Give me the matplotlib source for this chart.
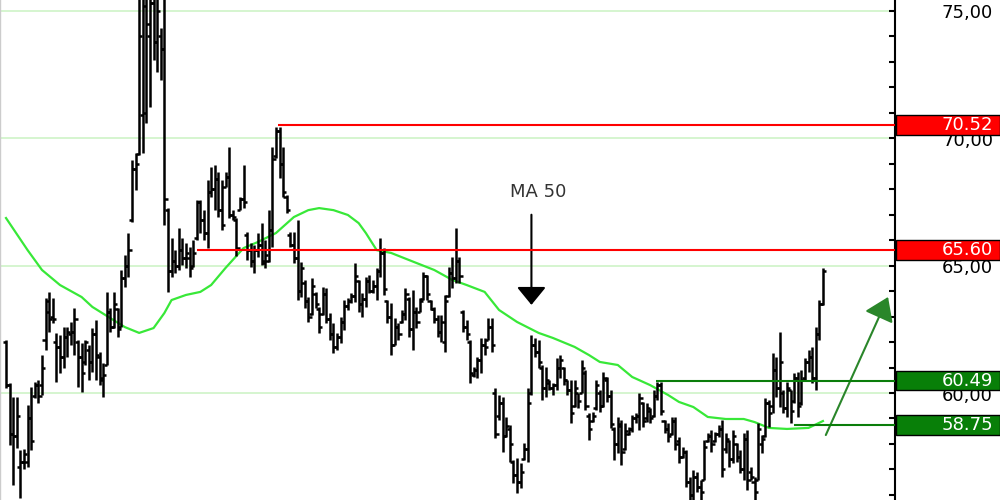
import numpy as np
import matplotlib.pyplot as plt
from matplotlib.transforms import blended_transform_factory
from matplotlib.patches import Rectangle

# daily bars (open, high, low, close)
opens = [62.0, 60.3, 58.4, 58.3, 57.1, 57.3, 57.3, 59.0, 59.9, 60.3, 60.3, 62.1, 63.6, 63.0, 62.0, 61.8, 61.4, 62.2, 62.3, 62.4,
         62.0, 61.4, 61.2, 61.7, 61.2, 62.3, 61.4, 60.5, 61.1, 63.2, 62.6, 63.3, 62.6, 64.5, 65.0, 66.8, 68.8, 69.4, 70.9, 71.0,
         74.0, 75.3, 73.8, 74.0, 73.5, 67.2, 64.8, 65.2, 65.0, 65.6, 65.3, 65.3, 65.0, 66.1, 67.5, 66.8, 66.3, 67.9, 68.0, 68.4,
         67.2, 68.1, 68.5, 67.0, 66.8, 67.2, 67.6, 66.2, 65.6, 65.2, 65.6, 65.8, 65.2, 65.2, 66.4, 69.3, 70.3, 69.0, 67.7, 66.2,
         65.8, 65.3, 64.0, 64.3, 63.6, 63.1, 63.9, 63.3, 63.1, 63.9, 62.9, 62.3, 61.8, 62.2, 62.8, 63.4, 63.6, 63.8, 64.4, 63.5,
         63.7, 64.4, 64.0, 64.2, 64.8, 65.5, 63.6, 63.0, 61.9, 62.6, 62.8, 63.1, 63.7, 62.5, 63.2, 63.2, 63.7, 64.6, 63.6, 63.3,
         62.9, 62.4, 62.0, 63.8, 64.7, 64.5, 65.2, 63.2, 62.6, 62.0, 60.7, 60.9, 61.3, 61.9, 62.1, 62.6, 60.0, 59.1, 59.6, 58.3,
         58.6, 57.3, 56.8, 56.5, 57.4, 57.8, 60.0, 61.9, 61.6, 61.0, 60.2, 60.4, 60.2, 60.3, 61.0, 61.0, 60.5, 60.1, 59.5, 60.0,
         60.0, 60.8, 59.1, 58.9, 59.4, 60.0, 59.5, 60.5, 59.9, 58.6, 58.0, 58.7, 57.8, 58.4, 58.6, 59.0, 59.1, 59.6, 59.0, 59.3,
         59.1, 59.9, 60.3, 58.9, 58.6, 58.4, 58.9, 58.1, 57.5, 57.7, 56.5, 56.0, 56.7, 56.3, 56.6, 58.1, 58.3, 58.1, 58.4, 58.6,
         57.8, 58.1, 57.4, 58.0, 57.5, 57.0, 58.2, 56.9, 56.5, 56.6, 58.0, 58.3, 59.6, 59.5, 60.9, 60.2, 60.0, 59.4, 60.1, 59.7,
         60.6, 59.6, 60.6, 61.2, 61.4, 60.6, 62.3, 63.5]
highs = [62.08, 60.39, 59.84, 59.84, 57.76, 57.8, 59.53, 60.24, 60.43, 60.5, 61.49, 63.73, 63.97, 63.73, 62.36, 62.28, 62.59, 62.59, 62.8, 63.34,
         62.08, 61.96, 62.08, 61.88, 62.55, 62.87, 61.6, 61.18, 63.97, 63.34, 63.97, 63.34, 64.83, 65.42, 66.28, 69.15, 69.42, 76.0, 76.0, 76.0,
         76.0, 76.0, 76.0, 74.33, 76.0, 67.26, 66.09, 65.61, 66.48, 66.09, 65.9, 65.73, 66.01, 67.58, 67.58, 67.18, 68.36, 68.87, 68.95, 68.68,
         68.36, 68.68, 69.66, 67.18, 66.87, 67.69, 68.95, 66.32, 65.89, 65.81, 66.28, 66.67, 66.0, 67.18, 69.66, 70.44, 70.44, 69.66, 67.77, 66.32,
         66.32, 66.79, 65.14, 64.44, 63.77, 64.51, 63.97, 63.38, 64.16, 64.12, 63.14, 62.75, 62.36, 62.98, 63.65, 63.73, 63.93, 65.10, 64.44, 63.93,
         64.55, 64.63, 64.44, 64.91, 66.09, 65.69, 63.65, 63.53, 62.94, 62.75, 63.26, 64.12, 63.77, 64.04, 63.38, 63.73, 64.75, 64.63, 63.65, 63.38,
         63.06, 63.06, 63.85, 64.95, 65.34, 66.48, 65.34, 63.26, 62.87, 62.08, 61.02, 61.41, 62.16, 62.16, 62.94, 62.94, 60.20, 59.92, 59.84, 59.06,
         58.74, 57.37, 57.45, 57.25, 58.04, 60.20, 62.28, 62.16, 62.08, 61.10, 61.02, 60.51, 60.39, 61.37, 61.49, 61.02, 60.51, 60.51, 60.51, 60.00,
         61.30, 60.90, 59.21, 59.25, 60.51, 60.12, 60.82, 60.63, 60.12, 58.67, 59.06, 58.94, 58.82, 58.67, 59.14, 59.21, 60.00, 59.65, 59.61, 59.41,
         60.12, 60.43, 60.43, 58.94, 58.82, 59.06, 59.06, 58.27, 57.88, 57.76, 56.70, 56.98, 56.90, 56.58, 58.15, 58.43, 58.55, 58.47, 58.74, 58.94,
         58.43, 58.15, 58.55, 58.04, 57.76, 58.43, 58.55, 57.09, 56.70, 58.82, 58.35, 59.80, 59.73, 61.57, 61.41, 62.39, 60.12, 60.43, 60.12, 60.79,
         60.82, 60.90, 61.37, 61.69, 61.81, 62.59, 63.65, 64.91]
lows = [60.20, 57.96, 56.39, 57.84, 55.88, 57.0, 57.09, 57.76, 59.80, 59.6, 59.92, 61.69, 62.39, 62.75, 60.43, 60.79, 60.98, 61.41, 61.9, 61.49,
        60.24, 60.04, 61.10, 60.51, 60.82, 60.51, 60.3, 59.84, 61.10, 62.39, 62.55, 62.20, 62.59, 64.16, 64.55, 66.71, 67.97, 69.34, 69.42, 70.6,
        71.23, 73.07, 72.60, 72.29, 66.60, 63.97, 64.55, 64.71, 64.83, 65.02, 64.9, 64.55, 64.95, 66.01, 66.28, 66.01, 65.69, 67.69, 67.18, 66.91,
        66.40, 68.09, 66.87, 66.79, 65.38, 67.18, 67.26, 65.22, 64.95, 64.71, 65.34, 65.03, 64.9, 65.14, 65.73, 69.23, 68.44, 67.69, 67.07, 65.73,
        65.10, 63.65, 63.77, 63.34, 62.79, 63.06, 63.34, 62.36, 63.06, 62.75, 62.08, 61.57, 61.69, 61.96, 62.47, 63.26, 63.53, 63.57, 63.18, 62.98,
        63.38, 63.93, 63.93, 63.65, 64.55, 63.85, 62.75, 61.49, 61.88, 62.08, 62.75, 62.87, 62.20, 61.69, 62.55, 63.18, 63.65, 63.65, 63.26, 62.75,
        62.20, 62.00, 61.61, 63.77, 64.12, 64.32, 64.32, 62.39, 62.08, 60.39, 60.63, 60.59, 60.79, 61.49, 62.08, 61.61, 58.23, 58.94, 57.68, 58.27,
        57.29, 56.47, 56.07, 56.27, 57.37, 57.29, 59.92, 61.41, 60.98, 59.73, 59.84, 60.12, 59.92, 60.12, 60.59, 60.31, 59.92, 58.82, 59.45, 59.41,
        60.00, 59.33, 58.15, 58.86, 59.33, 59.25, 59.45, 59.65, 58.63, 57.37, 57.64, 57.17, 57.76, 58.35, 58.47, 58.82, 58.55, 58.67, 58.86, 58.82,
        59.06, 59.73, 59.14, 58.43, 58.08, 58.35, 57.76, 57.25, 57.45, 56.31, 55.80, 55.80, 56.11, 55.80, 56.58, 58.08, 57.68, 58.08, 58.27, 56.70,
        57.64, 57.09, 57.25, 57.29, 56.86, 56.58, 56.19, 56.58, 55.80, 56.58, 57.64, 58.27, 58.67, 59.21, 59.84, 59.45, 59.21, 59.06, 58.82, 59.61,
        59.06, 59.53, 60.51, 60.82, 60.39, 60.12, 62.08, 63.45]
closes = [60.3, 58.4, 58.3, 59.1, 57.3, 57.6, 59.0, 58.1, 60.3, 59.9, 61.0, 63.2, 62.9, 62.9, 61.8, 61.4, 62.2, 62.4, 62.4, 62.9,
          61.4, 60.8, 62.0, 61.2, 62.3, 61.5, 60.6, 60.7, 63.2, 62.6, 63.5, 62.5, 64.5, 65.0, 65.6, 68.8, 69.0, 74.0, 75.2, 74.5,
          75.3, 73.8, 75.0, 73.5, 67.6, 64.8, 65.2, 65.0, 65.6, 65.3, 65.5, 64.9, 65.5, 67.5, 66.8, 66.3, 67.9, 68.0, 68.4, 67.2,
          66.6, 68.5, 67.0, 66.9, 65.7, 67.6, 67.5, 65.6, 65.2, 65.6, 65.8, 65.1, 65.4, 66.4, 69.2, 70.3, 69.0, 67.9, 67.2, 65.8,
          65.3, 64.0, 64.9, 63.6, 63.0, 64.2, 63.5, 62.6, 63.9, 62.9, 62.3, 61.8, 62.2, 62.8, 63.4, 63.6, 63.8, 64.6, 63.5, 63.7,
          64.4, 64.0, 64.2, 64.8, 65.5, 64.1, 63.0, 61.9, 62.6, 62.3, 63.1, 63.9, 62.5, 63.2, 62.8, 63.6, 64.6, 63.9, 63.3, 62.9,
          62.4, 62.8, 63.6, 64.7, 64.5, 65.2, 64.6, 62.6, 62.3, 60.8, 60.9, 61.3, 61.9, 61.8, 62.6, 61.9, 58.4, 59.6, 58.3, 58.7,
          58.0, 56.8, 56.5, 56.9, 57.8, 59.6, 61.9, 61.6, 61.2, 60.2, 60.5, 60.2, 60.3, 61.0, 61.3, 60.5, 60.1, 59.2, 60.2, 59.7,
          61.0, 59.5, 58.6, 59.1, 60.3, 59.5, 60.6, 59.9, 58.8, 58.0, 58.8, 57.7, 58.5, 58.6, 59.0, 59.1, 59.8, 58.9, 59.4, 59.0,
          59.9, 60.3, 59.3, 58.6, 58.3, 58.9, 58.0, 57.5, 57.7, 56.5, 56.0, 56.7, 56.3, 56.1, 57.9, 58.3, 58.0, 58.4, 58.6, 57.0,
          58.2, 57.4, 58.3, 57.5, 57.0, 58.2, 56.6, 56.7, 56.1, 58.6, 58.2, 59.6, 59.2, 60.9, 60.2, 61.2, 59.4, 60.2, 59.3, 60.6,
          59.5, 60.5, 61.2, 61.4, 60.6, 62.3, 63.5, 64.8]

# 50 day moving average, sampled along the curve (day, value)
ma_day = [0, 6, 10, 15, 21, 24, 29, 33, 37, 41, 44, 46, 50, 54, 57, 61, 66, 70, 75, 80, 84, 87, 91, 95, 98, 100, 103,
          107, 112, 119, 124, 128, 133, 137, 142, 148, 152, 158, 162, 165, 170, 174, 179, 184, 187, 191, 195, 200, 205,
          208, 212, 217, 223, 227]
ma_value = [66.87, 65.61, 64.83, 64.24, 63.77, 63.38, 62.94, 62.59, 62.36, 62.55, 63.14, 63.65, 63.85, 63.97, 64.24,
            64.91, 65.69, 65.93, 66.28, 66.91, 67.18, 67.26, 67.18, 66.99, 66.67, 66.28, 65.61, 65.50, 65.22, 64.83, 64.44,
            64.24, 63.97, 63.26, 62.79, 62.36, 62.16, 61.81, 61.49, 61.22, 61.10, 60.63, 60.31, 59.92, 59.65, 59.45, 59.06,
            58.98, 58.98, 58.86, 58.63, 58.59, 58.63, 58.90]

# support / resistance levels: value, first day, colour
levels = [70.52, 65.60, 60.49, 58.75]
level_start = [75.5, 53, 180.5, 219]
level_colors = ['#ff0000', '#ff0000', '#0a7d0a', '#0a7d0a']

grid_values = [60, 65, 70, 75]

n = len(closes)
x = np.arange(n)
x_max = n - 1 + 72 / 3.595

fig = plt.figure(figsize=(10, 5), dpi=100)
ax = fig.add_axes([0, 0, 0.895, 1])
ax.set_xlim(-1.67, x_max)
ax.set_ylim(55.80, 75.43)

# light green grid
for g in grid_values:
    ax.axhline(g, color='#d2f5cc', lw=1.3, zorder=0)

# moving average
ax.plot(ma_day, ma_value, color='#38e838', lw=1.6, zorder=2)

# OHLC bars
ax.vlines(x, lows, highs, color='black', lw=1.8, zorder=3)
ax.hlines(opens, x - 0.9, x, color='black', lw=1.8, zorder=3)
ax.hlines(closes, x, x + 0.9, color='black', lw=1.8, zorder=3)

# horizontal levels
for lv, st, c in zip(levels, level_start, level_colors):
    ax.hlines(lv, st, x_max, color=c, lw=1.5, zorder=4)

# MA 50 annotation
ax.annotate('', xy=(146, 63.46), xytext=(146, 67.0),
            arrowprops=dict(arrowstyle='-|>,head_length=1.1,head_width=0.9', mutation_scale=10,
                            color='black', lw=1.5, shrinkA=0, shrinkB=0))
ax.text(148, 67.9, 'MA 50', ha='center', va='center', fontsize=13, color='#333333')

# green arrow
ax.annotate('', xy=(245.1, 63.77), xytext=(227.8, 58.35),
            arrowprops=dict(arrowstyle='-|>,head_length=1.4,head_width=0.95', mutation_scale=10,
                            color='#2a862a', lw=1.5, shrinkA=0, shrinkB=0))

# axes styling
for side in ['top', 'bottom']:
    ax.spines[side].set_visible(False)
ax.spines['left'].set_color('#cccccc')
ax.spines['left'].set_linewidth(1)
ax.spines['right'].set_linewidth(1.5)
ax.set_xticks([])
ax.yaxis.tick_right()
ax.set_yticks(range(56, 76))
ax.tick_params(axis='y', direction='in', length=4, width=1.5, labelright=False)

# price labels on the right
tr = blended_transform_factory(fig.transFigure, ax.transData)
for g in grid_values:
    ax.text(0.993, g - 0.1, f'{g},00', transform=tr, ha='right', va='center', fontsize=13,
            color='black', clip_on=False)

for lv, c in zip(levels, level_colors):
    box_c = '#ff0000' if c == '#ff0000' else '#087f08'
    ax.add_patch(Rectangle((0.896, lv - 0.39), 0.104, 0.78, transform=tr, facecolor=box_c,
                           edgecolor='black', lw=1, clip_on=False, zorder=6))
    ax.text(0.993, lv, f'{lv:.2f}', transform=tr, ha='right', va='center', fontsize=13,
            color='white', clip_on=False, zorder=7)

plt.savefig('out.png')
